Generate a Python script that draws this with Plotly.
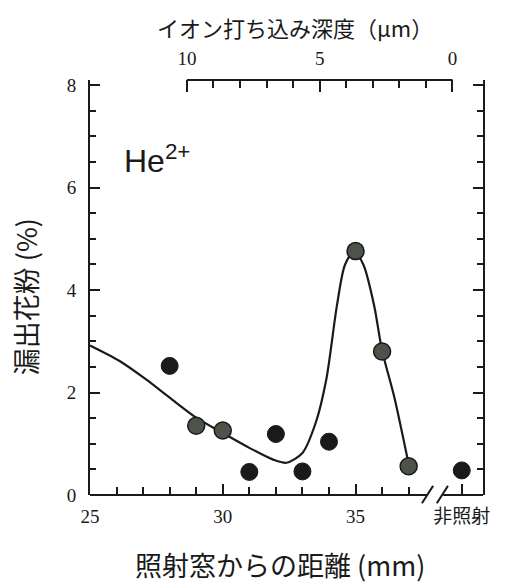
import plotly.graph_objects as go

# ---- data ----
black_x = [28, 31, 32, 33, 34]
black_y = [2.52, 0.45, 1.19, 0.46, 1.04]
grey_x = [29, 30, 35, 36, 37]
grey_y = [1.35, 1.26, 4.76, 2.80, 0.56]
control_x = [39]
control_y = [0.48]

curve_x = [25.0, 26.1, 27.1, 28.0, 29.0, 30.0, 31.0, 31.9, 32.4, 33.0, 33.5, 33.9,
           34.3, 34.6, 34.95, 35.3, 35.7, 36.0, 36.45, 37.0]
curve_y = [2.92, 2.62, 2.26, 1.90, 1.51, 1.21, 0.92, 0.69, 0.63, 0.82, 1.41, 2.26,
           3.70, 4.49, 4.76, 4.49, 3.70, 2.82, 1.93, 0.60]

x_major_vals = [25, 30, 35, 39]
x_major_text = ["25", "30", "35", "非照射"]
x_minor_vals = [26, 27, 28, 29, 31, 32, 33, 34, 36, 37]
y_tick_vals = [0, 2, 4, 6, 8]
depth_tick_vals = [10, 5, 0]
depth_minor_vals = [1, 2, 3, 4, 6, 7, 8, 9]

X_RANGE = [25, 39.8]
DEPTH_ZERO_MM = 38.65          # distance (mm) where implant depth = 0 µm
DEPTH_RANGE = [DEPTH_ZERO_MM - X_RANGE[0], DEPTH_ZERO_MM - X_RANGE[1]]

INK = "#1a1a1a"
SERIF = "Liberation Serif, Noto Sans CJK JP"
SANS = "Noto Sans CJK JP, Liberation Sans"

fig = go.Figure()

# dummy trace to register the top depth axis
fig.add_trace(go.Scatter(x=[5], y=[None], xaxis="x2", yaxis="y", mode="markers",
                         showlegend=False, hoverinfo="skip"))
fig.add_trace(go.Scatter(x=curve_x, y=curve_y, mode="lines",
                         line=dict(color=INK, width=2.2, shape="spline", smoothing=0.8),
                         hoverinfo="skip", showlegend=False))
fig.add_trace(go.Scatter(x=black_x, y=black_y, mode="markers",
                         marker=dict(size=17, color=INK, line=dict(color=INK, width=1)),
                         showlegend=False))
fig.add_trace(go.Scatter(x=grey_x, y=grey_y, mode="markers",
                         marker=dict(size=17, color="#4e5349", line=dict(color=INK, width=1.5)),
                         showlegend=False))
fig.add_trace(go.Scatter(x=control_x, y=control_y, mode="markers",
                         marker=dict(size=17, color=INK, line=dict(color=INK, width=1)),
                         showlegend=False))

fig.update_layout(
    width=510, height=583,
    margin=dict(l=90, r=27, t=80, b=88),
    paper_bgcolor="white", plot_bgcolor="rgba(0,0,0,0)",
    font=dict(family=SERIF, size=18, color=INK),
    xaxis=dict(
        range=X_RANGE, showgrid=False, zeroline=False, showline=False,
        tickmode="array", tickvals=x_major_vals, ticktext=x_major_text,
        ticks="inside", ticklen=11, tickwidth=2, tickcolor=INK,
        ticklabelstandoff=8,
        tickfont=dict(family=SERIF, size=19, color=INK),
        minor=dict(tickmode="array", tickvals=x_minor_vals, ticks="inside",
                   ticklen=8, tickwidth=2, tickcolor=INK),
    ),
    xaxis2=dict(
        overlaying="x", side="top", anchor="y",
        range=DEPTH_RANGE,
        showgrid=False, zeroline=False, showline=False,
        tickmode="array", tickvals=depth_tick_vals,
        ticks="inside", ticklen=12, tickwidth=2, tickcolor=INK,
        ticklabelstandoff=10,
        tickfont=dict(family=SERIF, size=19, color=INK),
        minor=dict(tickmode="array", tickvals=depth_minor_vals, ticks="inside",
                   ticklen=8, tickwidth=2, tickcolor=INK),
    ),
    yaxis=dict(
        range=[0, 8.1], showgrid=False, zeroline=False,
        showline=True, linewidth=2, linecolor=INK, mirror="ticks",
        tickmode="array", tickvals=y_tick_vals,
        ticks="inside", ticklen=10, tickwidth=2, tickcolor=INK,
        ticklabelstandoff=8,
        tickfont=dict(family=SERIF, size=19, color=INK),
        minor=dict(dtick=0.5, ticks="inside", ticklen=6, tickwidth=2, tickcolor=INK),
    ),
)

axis_line = dict(color=INK, width=2)
# top depth axis line (10 µm -> 0 µm)
fig.add_shape(type="line", xref="x2", yref="paper", x0=10, x1=0, y0=1, y1=1, line=axis_line)
# broken bottom axis
fig.add_shape(type="line", xref="x", yref="paper", x0=25, x1=37.7, y0=0, y1=0, line=axis_line)
fig.add_shape(type="line", xref="x", yref="paper", x0=38.3, x1=39.8, y0=0, y1=0, line=axis_line)
fig.add_shape(type="line", xref="x", yref="paper", x0=37.5, x1=37.92, y0=-0.02, y1=0.022, line=axis_line)
fig.add_shape(type="line", xref="x", yref="paper", x0=38.06, x1=38.48, y0=-0.02, y1=0.022, line=axis_line)

# texts
fig.add_annotation(x=26.2, y=6.55, xref="x", yref="y", text="He<sup>2+</sup>",
                   showarrow=False, xanchor="left", yanchor="middle",
                   font=dict(family="Liberation Sans", size=32, color=INK))
fig.add_annotation(x=0.522, y=1.128, xref="paper", yref="paper",
                   text="イオン打ち込み深度（μm）", showarrow=False,
                   xanchor="center", yanchor="middle",
                   font=dict(family=SANS, size=22, color=INK))
fig.add_annotation(x=-0.165, y=0.477, xref="paper", yref="paper",
                   text="漏出花粉 (%)", showarrow=False, textangle=-90,
                   xanchor="center", yanchor="middle",
                   font=dict(family=SANS, size=27, color=INK))
fig.add_annotation(x=0.483, y=-0.168, xref="paper", yref="paper",
                   text="照射窓からの距離 (mm)", showarrow=False,
                   xanchor="center", yanchor="middle",
                   font=dict(family=SANS, size=27, color=INK))

fig.write_html("out.html", config={"displayModeBar": False},
               post_script="document.body.style.margin='0';document.body.style.padding='0';")
